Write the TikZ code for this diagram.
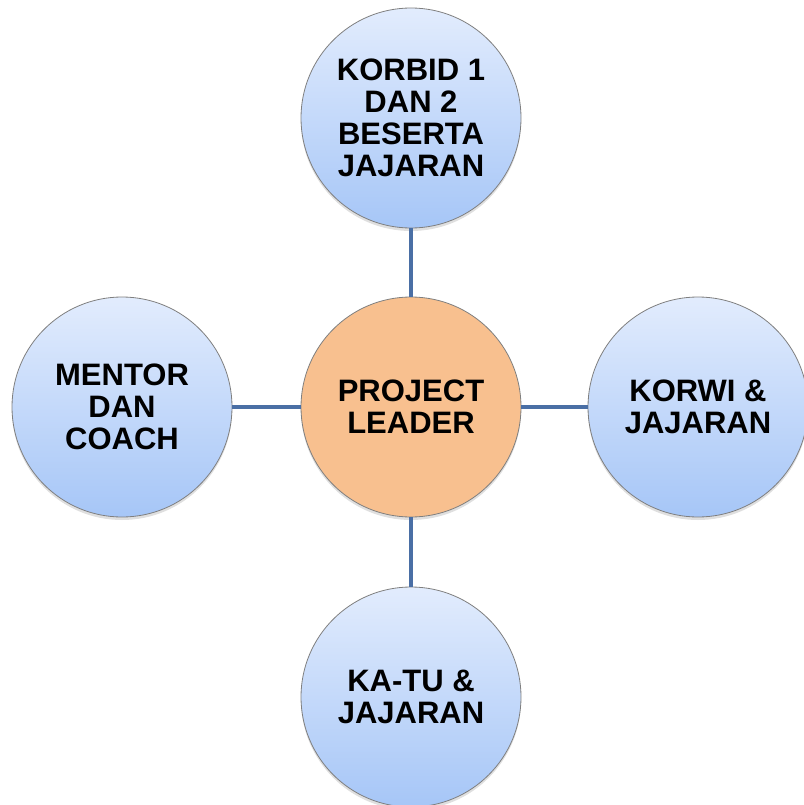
\documentclass[tikz,border=0pt]{standalone}
\usepackage{fontspec}
\setmainfont{Liberation Sans}
\usetikzlibrary{shadows}
\definecolor{linkblue}{HTML}{4A6FA5}
\definecolor{bluetop}{HTML}{E2ECFD}
\definecolor{bluebot}{HTML}{A6C6F7}
\definecolor{orangefill}{HTML}{F8C08F}
\definecolor{rimgray}{HTML}{7F7F7F}
\tikzset{
  bubble/.style={circle, minimum size=220pt, inner sep=0pt, draw=rimgray, line width=0.8pt,
    align=center, font=\fontsize{31}{32}\selectfont\bfseries,
    drop shadow={opacity=0.25, shadow xshift=0pt, shadow yshift=-3pt}},
  bluebubble/.style={bubble, top color=bluetop, bottom color=bluebot},
  hubbubble/.style={bubble, fill=orangefill},
  link/.style={draw=linkblue, line width=4pt}
}
\begin{document}
\begin{tikzpicture}[x=1pt,y=-1pt]
\useasboundingbox (0,0) rectangle (803,805);
\node[hubbubble] (hub) at (411,407) {PROJECT\\LEADER};
\node[bluebubble] (top) at (411,118) {KORBID 1\\DAN 2\\BESERTA\\JAJARAN};
\node[bluebubble] (left) at (122,407) {MENTOR\\DAN\\COACH};
\node[bluebubble] (right) at (698,407) {KORWI \&\\JAJARAN};
\node[bluebubble] (bottom) at (411,697) {KA-TU \&\\JAJARAN};
\path[link] (hub) -- (top);
\path[link] (hub) -- (left);
\path[link] (hub) -- (right);
\path[link] (hub) -- (bottom);
\end{tikzpicture}
\end{document}
